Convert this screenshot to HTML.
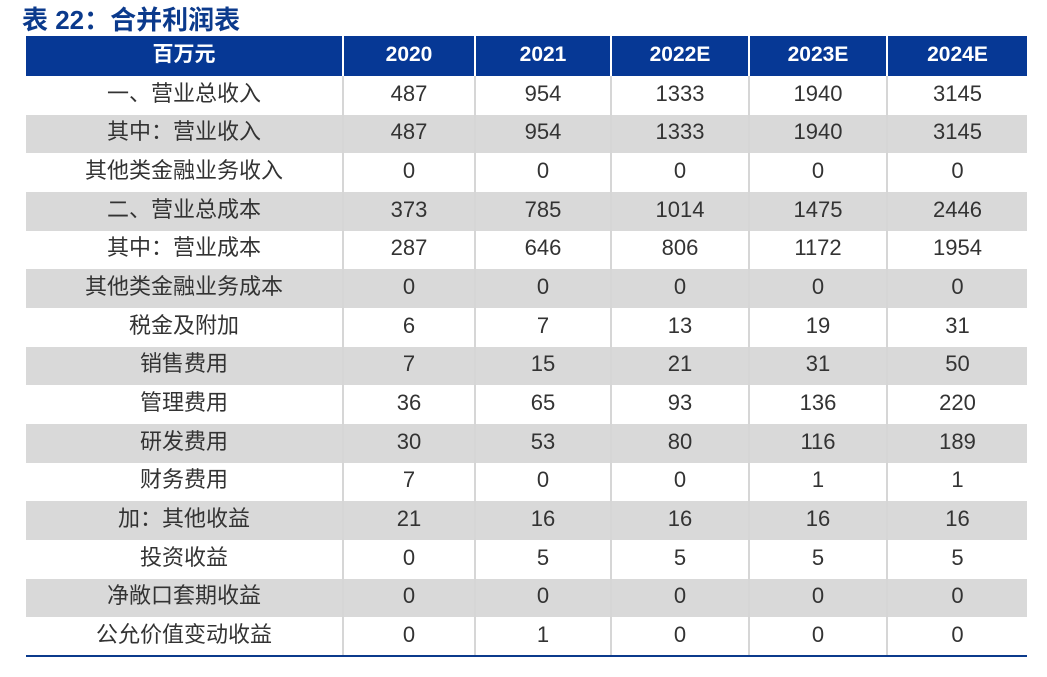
<!DOCTYPE html>
<html><head><meta charset="utf-8"><style>
body{margin:0;background:#fff;width:1047px;height:677px;overflow:hidden;font-family:"Liberation Sans","Noto Sans CJK SC",sans-serif}
.t{position:absolute;left:22px;top:3px;font-size:26px;font-weight:bold;color:#0b3a8c;line-height:34px}
table{position:absolute;left:26px;top:36px;border-collapse:collapse;table-layout:fixed;width:1001px}
td{height:38.67px;padding:0 0 3px 0;text-align:center;font-size:22px;line-height:24px;color:#333;border-left:2px solid #d6d6d6;border-right:2px solid #d6d6d6;box-sizing:border-box}
tr td:first-child{border-left:none}tr td:last-child{border-right:none}
tr.h td{background:#063895;color:#fff;font-weight:bold;height:40px;border-color:#fff;font-size:21px}
tr.g td{background:#d9d9d9}
.b{position:absolute;left:26px;top:655px;width:1001px;height:2px;background:#0b3a8c}
</style></head><body>
<div class="t">表 22：合并利润表</div>
<table>
<col style="width:317px"><col style="width:132px"><col style="width:136px"><col style="width:138px"><col style="width:138px"><col style="width:140px">
<tr class="h"><td>百万元</td><td>2020</td><td>2021</td><td>2022E</td><td>2023E</td><td>2024E</td></tr>
<tr><td>一、营业总收入</td><td>487</td><td>954</td><td>1333</td><td>1940</td><td>3145</td></tr>
<tr class="g"><td>其中：营业收入</td><td>487</td><td>954</td><td>1333</td><td>1940</td><td>3145</td></tr>
<tr><td>其他类金融业务收入</td><td>0</td><td>0</td><td>0</td><td>0</td><td>0</td></tr>
<tr class="g"><td>二、营业总成本</td><td>373</td><td>785</td><td>1014</td><td>1475</td><td>2446</td></tr>
<tr><td>其中：营业成本</td><td>287</td><td>646</td><td>806</td><td>1172</td><td>1954</td></tr>
<tr class="g"><td>其他类金融业务成本</td><td>0</td><td>0</td><td>0</td><td>0</td><td>0</td></tr>
<tr><td>税金及附加</td><td>6</td><td>7</td><td>13</td><td>19</td><td>31</td></tr>
<tr class="g"><td>销售费用</td><td>7</td><td>15</td><td>21</td><td>31</td><td>50</td></tr>
<tr><td>管理费用</td><td>36</td><td>65</td><td>93</td><td>136</td><td>220</td></tr>
<tr class="g"><td>研发费用</td><td>30</td><td>53</td><td>80</td><td>116</td><td>189</td></tr>
<tr><td>财务费用</td><td>7</td><td>0</td><td>0</td><td>1</td><td>1</td></tr>
<tr class="g"><td>加：其他收益</td><td>21</td><td>16</td><td>16</td><td>16</td><td>16</td></tr>
<tr><td>投资收益</td><td>0</td><td>5</td><td>5</td><td>5</td><td>5</td></tr>
<tr class="g"><td>净敞口套期收益</td><td>0</td><td>0</td><td>0</td><td>0</td><td>0</td></tr>
<tr><td>公允价值变动收益</td><td>0</td><td>1</td><td>0</td><td>0</td><td>0</td></tr>
</table>
<div class="b"></div>
</body></html>
